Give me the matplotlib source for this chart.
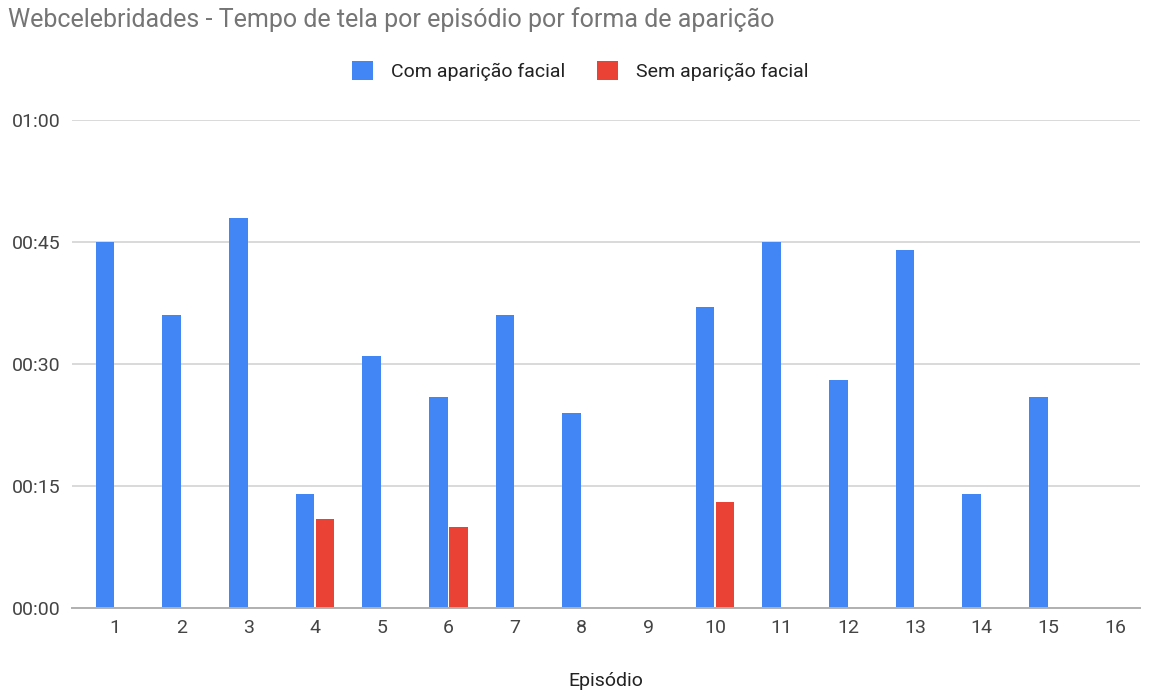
import numpy as np
import matplotlib.pyplot as plt
from matplotlib.ticker import FixedLocator, FuncFormatter
from matplotlib.patches import Patch

plt.rcParams['font.family'] = ['Roboto', 'DejaVu Sans']

episodes = list(range(1, 17))
# screen time in seconds
com_facial = [45, 36, 48, 14, 31, 26, 36, 24, 0, 37, 45, 28, 44, 14, 26, 0]
sem_facial = [0, 0, 0, 11, 0, 10, 0, 0, 0, 13, 0, 0, 0, 0, 0, 0]
y_ticks = [0, 15, 30, 45, 60]

blue = '#4285F4'
red = '#EA4335'

fig = plt.figure(figsize=(11.52, 6.91), dpi=100)
ax = fig.add_axes([72/1152, 1-608/691, (1140-72)/1152, (608-120)/691])

x = np.array(episodes, dtype=float)
w = 0.28
off = 0.15
ax.bar(x - off, com_facial, width=w, color=blue, linewidth=0, zorder=3)
ax.bar(x + off, sem_facial, width=w, color=red, linewidth=0, zorder=3)

ax.set_xlim(1 - 0.645, 16 + 0.375)
ax.set_ylim(0, 60)
ax.yaxis.set_major_locator(FixedLocator(y_ticks))
ax.yaxis.set_major_formatter(FuncFormatter(lambda v, p: '%02d:%02d' % (int(v) // 60, int(v) % 60)))
ax.set_xticks(episodes)
ax.set_xticklabels([str(e) for e in episodes])

ax.grid(axis='y', color='#d9d9d9', linewidth=1.4, zorder=0)
ax.set_axisbelow(True)
for s in ['top', 'right', 'left']:
    ax.spines[s].set_visible(False)
ax.spines['bottom'].set_color('#b0b0b0')
ax.spines['bottom'].set_linewidth(1.4)
ax.spines['bottom'].set_zorder(4)
ax.tick_params(axis='both', length=0, labelsize=14, labelcolor='#444444')
ax.tick_params(axis='y', pad=8)
ax.tick_params(axis='x', pad=8)
for lbl in ax.get_yticklabels():
    lbl.set_clip_on(False)

ax.set_xlabel('Episódio', fontsize=14, color='#222222', labelpad=25)

fig.text(8/1152, 1-20/691, 'Webcelebridades - Tempo de tela por episódio por forma de aparição',
         fontsize=18, color='#757575', ha='left', va='center')

handles = [Patch(facecolor=blue, edgecolor='none'), Patch(facecolor=red, edgecolor='none')]
fig.legend(handles, ['Com aparição facial', 'Sem aparição facial'], ncol=2,
           loc='center', bbox_to_anchor=(580/1152, 1-71/691), frameon=False,
           fontsize=14, labelcolor='#222222', handlelength=1.1, handleheight=1.1,
           handletextpad=0.9, columnspacing=1.65)

fig.savefig('out.png', dpi=100)
